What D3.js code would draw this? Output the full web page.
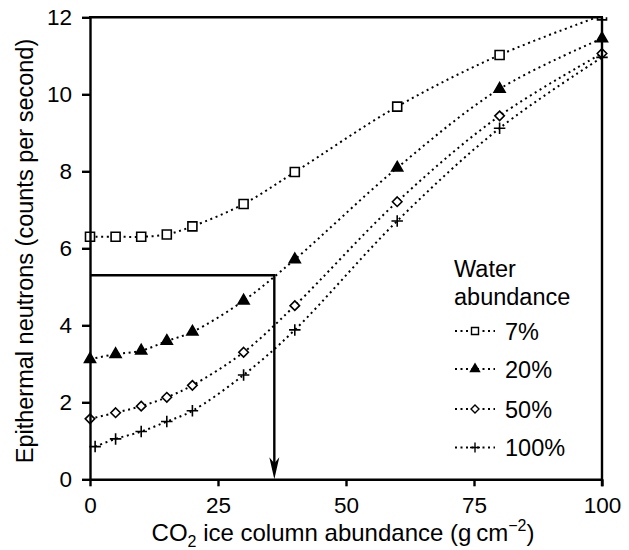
<!DOCTYPE html>
<html>
<head>
<meta charset="utf-8">
<script src="https://cdn.jsdelivr.net/npm/d3@7"></script>
<style>
  html, body { margin: 0; padding: 0; background: #fff; }
  svg { display: block; font-family: "Liberation Sans", Arial, Helvetica, sans-serif; }
</style>
</head>
<body>
<svg id="chart" width="629" height="550"></svg>
<script>
// CO2 ice column abundance (g cm^-2) at which each model run was computed
const abundance = [0, 5, 10, 15, 20, 30, 40, 60, 80, 100];
const abundance100 = [1, 5, 10, 15, 20, 30, 40, 60, 80, 100];

// Epithermal neutron count rates for each water abundance
const water7   = [6.30, 6.30, 6.30, 6.36, 6.57, 7.15, 7.98, 9.68, 11.02, 12.05];
const water20  = [3.12, 3.25, 3.34, 3.59, 3.83, 4.64, 5.71, 8.09, 10.14, 11.45];
const water50  = [1.57, 1.73, 1.90, 2.13, 2.44, 3.30, 4.51, 7.21, 9.44, 11.06];
const water100 = [0.85, 1.05, 1.24, 1.50, 1.78, 2.71, 3.88, 6.71, 9.12, 10.96];

const seriesLabels = ["7%", "20%", "50%", "100%"];
const xTicks = [0, 25, 50, 75, 100];
const yTicks = [0, 2, 4, 6, 8, 10, 12];

// Worked example: a measured rate read across to the curve, then down to the abundance
const measuredRate = 5.3;
const inferredAbundance = 36;

const svg = d3.select("#chart");
const margin = { left: 90, top: 17.3, right: 27, bottom: 70.7 };
const W = 629, H = 550;
const x = d3.scaleLinear().domain([0, 100]).range([margin.left, W - margin.right]);
const y = d3.scaleLinear().domain([0, 12]).range([H - margin.bottom, margin.top]);

// Marker shapes (size is the full width of the glyph)
const squareSym = { draw(ctx, s) { const h = s / 2; ctx.rect(-h, -h, s, s); } };
const triSym = { draw(ctx, s) {
  const h = s * Math.sqrt(3) / 2;
  ctx.moveTo(0, -2 * h / 3); ctx.lineTo(s / 2, h / 3); ctx.lineTo(-s / 2, h / 3); ctx.closePath();
} };
const diamondSym = { draw(ctx, s) {
  const h = s / 2;
  ctx.moveTo(0, -h); ctx.lineTo(h, 0); ctx.lineTo(0, h); ctx.lineTo(-h, 0); ctx.closePath();
} };
const plusSym = { draw(ctx, s) {
  const h = s / 2;
  ctx.moveTo(-h, 0); ctx.lineTo(h, 0); ctx.moveTo(0, -h); ctx.lineTo(0, h);
} };

const series = [
  { label: seriesLabels[0], xs: abundance,    ys: water7,   type: squareSym,  size: 9,    fill: "#fff", lsize: 7 },
  { label: seriesLabels[1], xs: abundance,    ys: water20,  type: triSym,     size: 11,   fill: "#000", lsize: 9 },
  { label: seriesLabels[2], xs: abundance,    ys: water50,  type: diamondSym, size: 9.5,  fill: "#fff", lsize: 8 },
  { label: seriesLabels[3], xs: abundance100, ys: water100, type: plusSym,    size: 11.5, fill: "none", lsize: 10 }
];

// Clip only at the top of the frame so points above the y range stay hidden
svg.append("defs").append("clipPath").attr("id", "topclip")
  .append("rect").attr("x", 0).attr("y", y(12)).attr("width", W).attr("height", H);

const plot = svg.append("g").attr("clip-path", "url(#topclip)");

const line = d3.line()
  .x(d => x(d[0])).y(d => y(d[1]))
  .curve(d3.curveCatmullRom.alpha(0.5));

series.forEach(s => {
  const pts = s.xs.map((v, i) => [v, s.ys[i]]);
  plot.append("path")
    .attr("d", line(pts))
    .attr("fill", "none")
    .attr("stroke", "#000")
    .attr("stroke-width", 2)
    .attr("stroke-dasharray", "2,3.6");
});

// Frame: axes plus top and right borders
const gx = svg.append("g").attr("transform", `translate(0,${y(0)})`)
  .call(d3.axisBottom(x).tickValues(xTicks).tickSize(7).tickSizeOuter(0).tickPadding(11));
const gy = svg.append("g").attr("transform", `translate(${x(0)},0)`)
  .call(d3.axisLeft(y).tickValues(yTicks).tickSize(8).tickSizeOuter(0).tickPadding(10));
[gx, gy].forEach(g => {
  g.select(".domain").attr("stroke", "#000").attr("stroke-width", 2.4);
  g.selectAll(".tick line").attr("stroke", "#000").attr("stroke-width", 2.4);
  g.selectAll(".tick text").attr("fill", "#000").attr("font-size", 22.5)
    .attr("font-family", "Liberation Sans, Arial, sans-serif");
});
gy.selectAll(".tick text").attr("dy", "0.34em");

svg.append("line").attr("x1", x(0) - 1).attr("x2", x(100) + 1).attr("y1", y(12)).attr("y2", y(12))
  .attr("stroke", "#000").attr("stroke-width", 2.4);
svg.append("line").attr("x1", x(100)).attr("x2", x(100)).attr("y1", y(12)).attr("y2", y(0) + 7)
  .attr("stroke", "#000").attr("stroke-width", 2.4);

// Markers on top of the frame
series.forEach(s => {
  const pts = s.xs.map((v, i) => [v, s.ys[i]]);
  plot.selectAll(null).data(pts).join("path")
    .attr("transform", d => `translate(${x(d[0])},${y(d[1])})`)
    .attr("d", d3.symbol().type(s.type).size(s.size))
    .attr("fill", s.fill)
    .attr("stroke", "#000")
    .attr("stroke-width", 1.6);
});

// Read-off arrow
const ax = x(inferredAbundance), ay = y(measuredRate), ab = y(0);
svg.append("path")
  .attr("d", `M${x(0)},${ay}H${ax}V${ab - 14}`)
  .attr("fill", "none").attr("stroke", "#000").attr("stroke-width", 2.4);
svg.append("path")
  .attr("d", `M${ax},${ab}L${ax - 5},${ab - 22}L${ax},${ab - 16}L${ax + 5},${ab - 22}Z`)
  .attr("fill", "#000");

// Axis titles
const xt = svg.append("text")
  .attr("x", (x(0) + x(100)) / 2 - 3).attr("y", 541)
  .attr("text-anchor", "middle").attr("font-size", 24).attr("fill", "#000");
xt.append("tspan").text("CO");
xt.append("tspan").text("2").attr("font-size", 16).attr("dy", 6);
xt.append("tspan").text(" ice column abundance (g\u2009cm").attr("dy", -6);
xt.append("tspan").text("\u22122").attr("font-size", 16).attr("dy", -10);
xt.append("tspan").text(")").attr("dy", 10);

svg.append("text")
  .attr("transform", `translate(33,251) rotate(-90)`)
  .attr("text-anchor", "middle").attr("font-size", 23.5).attr("fill", "#000")
  .text("Epithermal neutrons (counts per second)");

// Legend
const lg = svg.append("g");
lg.append("text").attr("x", 454).attr("y", 277).attr("font-size", 23.5).text("Water");
lg.append("text").attr("x", 454).attr("y", 304.5).attr("font-size", 23.5).text("abundance");
const legendY = [331, 369, 409, 447.5];
series.forEach((s, i) => {
  const ly = legendY[i];
  lg.append("line").attr("x1", 455).attr("x2", 495).attr("y1", ly).attr("y2", ly)
    .attr("stroke", "#000").attr("stroke-width", 1.8).attr("stroke-dasharray", "2,3.5");
  lg.append("path").attr("transform", `translate(475,${ly})`)
    .attr("d", d3.symbol().type(s.type).size(s.lsize))
    .attr("fill", s.fill).attr("stroke", "#000").attr("stroke-width", 1.4);
  lg.append("text").attr("x", 505).attr("y", ly + 8.5).attr("font-size", 23.5).text(s.label);
});
</script>
</body>
</html>
